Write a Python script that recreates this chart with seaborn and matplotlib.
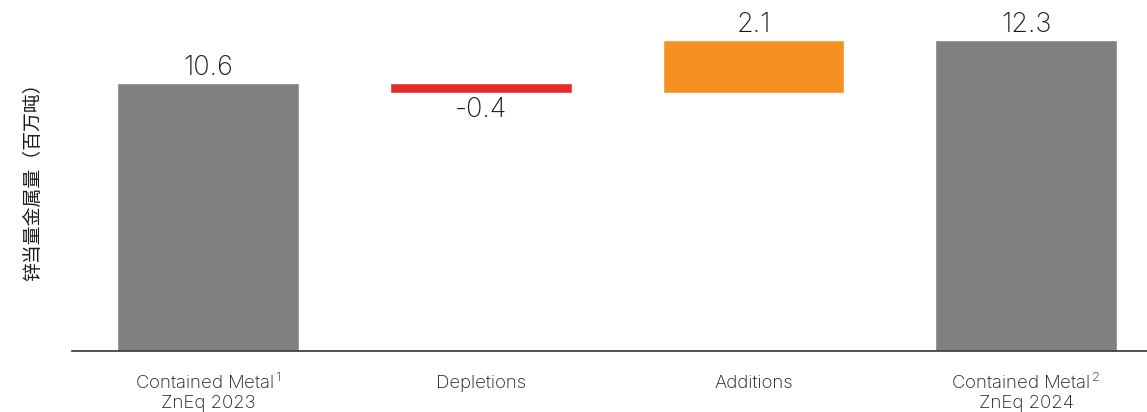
import numpy as np
import pandas as pd
import matplotlib
matplotlib.use("Agg")
import matplotlib.pyplot as plt
import matplotlib.transforms as mtransforms
import seaborn as sns

# data
categories = ["Contained Metal$^{\\,1}$\nZnEq 2023", "Depletions", "Additions", "Contained Metal$^{\\,2}$\nZnEq 2024"]
values = [10.6, -0.4, 2.1, 12.3]
kinds = ["total", "change", "change", "total"]
bar_colors = ["#808080", "#E52D27", "#F59120", "#808080"]
ylabel = "锌当量金属量（百万吨）"

# waterfall spans
tops, bases = [], []
running = 0.0
for v, k in zip(values, kinds):
    if k == "total":
        tops.append(v)
        bases.append(0.0)
        running = v
    else:
        start, end = running, running + v
        tops.append(max(start, end))
        bases.append(min(start, end))
        running = end

df = pd.DataFrame({"cat": categories, "top": tops, "base": bases, "value": values})

sns.set_style("white")
plt.rcParams["font.family"] = ["Inter", "DejaVu Sans"]
plt.rcParams["mathtext.fontset"] = "custom"
plt.rcParams["mathtext.rm"] = "Inter"
plt.rcParams["mathtext.it"] = "Inter"
plt.rcParams["mathtext.default"] = "regular"

fig = plt.figure(figsize=(11.47, 4.12), dpi=100)
ax = fig.add_axes([72 / 1147, 61 / 412, 1 - 72 / 1147, 1 - 61 / 412])

sns.barplot(data=df, x="cat", y="top", hue="cat", palette=bar_colors,
            width=2 / 3, legend=False, ax=ax, saturation=1)
# mask the part under the floating bars
sns.barplot(data=df, x="cat", y="base", color="white", width=2 / 3,
            ax=ax, saturation=1)

for i, (t, b, v) in enumerate(zip(tops, bases, values)):
    if v >= 0:
        ax.annotate(f"{v:.1f}", (i, t), xytext=(0, 1.5), textcoords="offset points",
                    ha="center", va="bottom", fontsize=19.5, color="#1a1a1a",
                    fontweight="light")
    else:
        ax.annotate(f"{v:.1f}", (i, b), xytext=(0, -3), textcoords="offset points",
                    ha="center", va="top", fontsize=19.5, color="#1a1a1a",
                    fontweight="light")

ax.set_ylim(0, 13.87)
ax.set_xlim(-0.5, 3.443)
ax.set_yticks([])
ax.set_xlabel("")
ax.set_ylabel(ylabel, family=["Noto Sans CJK SC", "DejaVu Sans"], fontsize=13.6,
              color="#1a1a1a")
ax.yaxis.set_label_coords(-29 / 1075, 0.494)
ax.tick_params(axis="x", length=0, pad=15.5, labelsize=13.4, labelcolor="#1a1a1a")

# single-line labels sit level with the first line of the two-line ones
shift = mtransforms.ScaledTranslation(0, -2 / 100, fig.dpi_scale_trans)
for lbl in ax.get_xticklabels():
    lbl.set_linespacing(1.2)
    lbl.set_fontweight("light")
    if "\n" not in lbl.get_text():
        lbl.set_transform(lbl.get_transform() + shift)

for s in ["top", "right", "left"]:
    ax.spines[s].set_visible(False)
ax.spines["bottom"].set_color("#333333")
ax.spines["bottom"].set_linewidth(1.2)

fig.savefig("out.png", dpi=100)
